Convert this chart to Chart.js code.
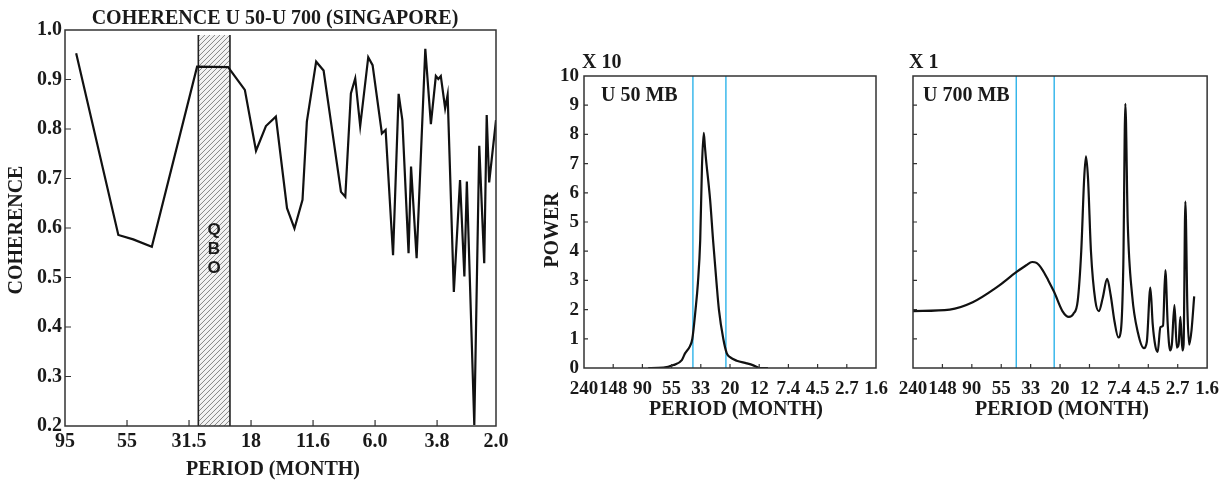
<!DOCTYPE html>
<html>
<head>
<meta charset="utf-8">
<script src="https://cdn.jsdelivr.net/npm/chart.js@4.4.1/dist/chart.umd.min.js"></script>
<style>
  html, body { margin: 0; padding: 0; background: #fff; }
  #wrap { position: relative; width: 1229px; height: 481px; overflow: hidden; }
  canvas { position: absolute; top: 0; }
</style>
</head>
<body>
<div id="wrap">
  <canvas id="coh" width="520" height="481" style="left:0px"></canvas>
  <canvas id="u50" width="380" height="481" style="left:520px"></canvas>
  <canvas id="u700" width="349" height="481" style="left:880px"></canvas>
</div>
<script>
// coherence panel (x = position along the period axis, one unit per labelled tick)
const cohTickLabels = ["95", "55", "31.5", "18", "11.6", "6.0", "3.8", "2.0"];
const cohTickPos = [0, 1, 2, 3, 4, 5, 6, 6.95];
const cohYTicks = [0.2, 0.3, 0.4, 0.5, 0.6, 0.7, 0.8, 0.9, 1.0];
const qboBand = [2.15, 2.66];

const cohPos = [
  0.18, 0.86, 1.1, 1.4, 2.13, 2.63, 2.9, 3.08, 3.24, 3.4, 3.58, 3.7, 3.83, 3.9,
  4.05, 4.17, 4.45, 4.52, 4.61, 4.68, 4.76, 4.89, 4.96, 5.11, 5.17, 5.29, 5.38,
  5.44, 5.54, 5.58, 5.67, 5.81, 5.9, 5.98, 6.02, 6.06, 6.13, 6.17, 6.27, 6.37,
  6.44, 6.48, 6.6, 6.68, 6.76, 6.8, 6.84, 6.95,
];
const cohValues = [
  0.953, 0.586, 0.577, 0.562, 0.926, 0.925, 0.879, 0.756, 0.806, 0.825, 0.64,
  0.599, 0.657, 0.815, 0.936, 0.918, 0.673, 0.663, 0.872, 0.902, 0.806, 0.945,
  0.929, 0.791, 0.798, 0.545, 0.871, 0.818, 0.549, 0.724, 0.539, 0.962, 0.81,
  0.907, 0.901, 0.907, 0.842, 0.869, 0.471, 0.697, 0.502, 0.694, 0.202, 0.766,
  0.529, 0.828, 0.692, 0.818,
];

// power spectra (x = position along the period axis)
const periodLabels = ["240", "148", "90", "55", "33", "20", "12", "7.4", "4.5", "2.7", "1.6"];
const periodTickPos = [0, 1, 2, 3, 4, 5, 6, 7, 8, 9, 10];
const powerTicks = [0, 1, 2, 3, 4, 5, 6, 7, 8, 9, 10];

const u50Marks = [3.73, 4.86];
const u50Pos = [
  2.2, 2.72, 3.06, 3.35, 3.46, 3.63, 3.71, 3.82, 3.9, 3.98, 4.04, 4.1, 4.14,
  4.17, 4.32, 4.42, 4.54, 4.62, 4.77, 4.89, 5.0, 5.23, 5.57, 5.8, 6.03, 6.3,
];
const u50Power = [
  0, 0.01, 0.1, 0.27, 0.5, 0.75, 1.0, 2.0, 2.9, 4.38, 6.9, 8.05, 7.6, 7.24,
  5.75, 4.38, 2.9, 2.0, 1.0, 0.5, 0.37, 0.25, 0.16, 0.09, 0, 0,
];

const u700Marks = [3.51, 4.8];
const u700Pos = [
  0, 1.25, 2.03, 2.83, 3.51, 3.85, 4.05, 4.2, 4.39, 4.6, 4.8, 5.08, 5.3, 5.45,
  5.6, 5.72, 5.82, 5.88, 5.95, 6.05, 6.2, 6.32, 6.45, 6.6, 6.72, 6.85, 6.98,
  7.07, 7.15, 7.22, 7.3, 7.45, 7.65, 7.85, 7.95, 8.07, 8.15, 8.24, 8.32, 8.41,
  8.5, 8.58, 8.66, 8.74, 8.8, 8.89, 8.97, 9.03, 9.09, 9.16, 9.2, 9.26, 9.33,
  9.39, 9.47, 9.56,
];
const u700Power = [
  1.95, 2.0, 2.25, 2.75, 3.28, 3.52, 3.63, 3.6, 3.38, 3.0, 2.6, 1.95, 1.75,
  1.85, 2.3, 4.0, 6.5, 7.25, 6.5, 4.0, 2.3, 1.95, 2.4, 3.05, 2.5, 1.6, 1.05,
  1.3, 3.5, 9.05, 5.0, 2.5, 1.2, 0.68, 0.9, 2.75, 1.5, 0.75, 0.55, 1.4, 1.45,
  3.35, 1.5, 0.6, 0.8, 2.15, 0.7, 0.8, 1.75, 0.6, 0.8, 5.7, 2.0, 0.8, 1.3, 2.45,
];

const SERIF = '"Liberation Serif", "Times New Roman", serif';
const INK = "#1a1a1a";

function pts(xs, ys) {
  return xs.map((x, i) => ({ x: x, y: ys[i] }));
}

// frame + short inward tick marks
const innerTicks = {
  id: "innerTicks",
  afterDraw(chart, args, opts) {
    const { ctx, chartArea: a, scales } = chart;
    ctx.save();
    ctx.strokeStyle = "#333";
    ctx.lineWidth = 1.2;
    ctx.beginPath();
    scales.x.ticks.forEach((t) => {
      const px = scales.x.getPixelForValue(t.value);
      if (px > a.left + 2 && px < a.right - 2) {
        ctx.moveTo(px, a.bottom);
        ctx.lineTo(px, a.bottom - opts.len);
      }
    });
    scales.y.ticks.forEach((t) => {
      const py = scales.y.getPixelForValue(t.value);
      if (py > a.top + 2 && py < a.bottom - 2) {
        ctx.moveTo(a.left, py);
        ctx.lineTo(a.left + opts.len, py);
      }
    });
    ctx.stroke();
    ctx.lineWidth = 1.5;
    ctx.strokeRect(a.left, a.top, a.right - a.left, a.bottom - a.top);
    ctx.restore();
  },
};

// free text placed in page coordinates
const textLabels = {
  id: "textLabels",
  afterDraw(chart, args, opts) {
    const ctx = chart.ctx;
    ctx.save();
    ctx.fillStyle = INK;
    (opts.items || []).forEach((it) => {
      ctx.save();
      ctx.font = it.font || "bold 20px " + SERIF;
      ctx.textAlign = it.align || "center";
      ctx.textBaseline = "middle";
      ctx.translate(it.x - opts.offset, it.y);
      if (it.rotate) ctx.rotate(it.rotate);
      ctx.fillText(it.text, 0, 0);
      ctx.restore();
    });
    ctx.restore();
  },
};

// hatched QBO band
const hatchBand = {
  id: "hatchBand",
  beforeDatasetsDraw(chart, args, opts) {
    if (!opts.from && opts.from !== 0) return;
    const { ctx, chartArea: a, scales } = chart;
    const x0 = scales.x.getPixelForValue(opts.from);
    const x1 = scales.x.getPixelForValue(opts.to);
    const top = a.top + 5;
    ctx.save();
    ctx.fillStyle = "#f2f2f2";
    ctx.fillRect(x0, top, x1 - x0, a.bottom - top);
    ctx.beginPath();
    ctx.rect(x0, top, x1 - x0, a.bottom - top);
    ctx.clip();
    ctx.strokeStyle = "#6a6a6a";
    ctx.lineWidth = 0.8;
    ctx.beginPath();
    for (let k = top - 60; k < a.bottom + 60; k += 5) {
      ctx.moveTo(x0, k + (x1 - x0));
      ctx.lineTo(x1, k);
    }
    ctx.stroke();
    ctx.restore();
    ctx.save();
    ctx.strokeStyle = "#222";
    ctx.lineWidth = 1.6;
    ctx.beginPath();
    ctx.moveTo(x0, top);
    ctx.lineTo(x0, a.bottom);
    ctx.moveTo(x1, top);
    ctx.lineTo(x1, a.bottom);
    ctx.stroke();
    ctx.restore();
  },
};

// thin blue reference lines
const markLines = {
  id: "markLines",
  beforeDatasetsDraw(chart, args, opts) {
    if (!opts.at) return;
    const { ctx, chartArea: a, scales } = chart;
    ctx.save();
    ctx.strokeStyle = "#1eaee8";
    ctx.lineWidth = 1.3;
    ctx.beginPath();
    opts.at.forEach((v) => {
      const px = scales.x.getPixelForValue(v);
      ctx.moveTo(px, a.top);
      ctx.lineTo(px, a.bottom);
    });
    ctx.stroke();
    ctx.restore();
  },
};

function makeChart(id, cfg) {
  return new Chart(document.getElementById(id), {
    type: "line",
    data: {
      datasets: [
        {
          data: cfg.data,
          borderColor: "#111",
          borderWidth: 2.2,
          pointRadius: 0,
          tension: cfg.tension || 0,
          cubicInterpolationMode: cfg.tension ? "monotone" : "default",
        },
      ],
    },
    options: {
      responsive: false,
      animation: false,
      devicePixelRatio: 1,
      layout: { padding: cfg.padding },
      plugins: {
        legend: { display: false },
        tooltip: { enabled: false },
        innerTicks: { len: cfg.tickLen },
        textLabels: { offset: cfg.offset, items: cfg.texts },
        hatchBand: cfg.band || {},
        markLines: cfg.marks || {},
      },
      scales: {
        x: {
          type: "linear",
          min: cfg.xMin,
          max: cfg.xMax,
          grid: { display: false, drawTicks: false },
          border: { display: false },
          afterBuildTicks: (s) => {
            s.ticks = cfg.xTicks.map((v) => ({ value: v }));
          },
          afterFit: (s) => {
            s.height = cfg.xHeight;
          },
          ticks: {
            autoSkip: false,
            maxRotation: 0,
            minRotation: 0,
            padding: cfg.xPad,
            color: INK,
            font: { family: SERIF, size: cfg.xFont, weight: "bold" },
            callback: (v, i) => cfg.xLabels[i],
          },
        },
        y: {
          type: "linear",
          min: cfg.yMin,
          max: cfg.yMax,
          grid: { display: false, drawTicks: false },
          border: { display: false },
          afterBuildTicks: (s) => {
            s.ticks = cfg.yTicks.map((v) => ({ value: v }));
          },
          afterFit: (s) => {
            s.width = cfg.yWidth;
          },
          ticks: {
            display: cfg.yLabels,
            padding: cfg.yPad,
            color: INK,
            font: { family: SERIF, size: cfg.yFont, weight: "bold" },
            callback: cfg.yFormat,
          },
        },
      },
    },
    plugins: [hatchBand, markLines, innerTicks, textLabels],
  });
}

makeChart("coh", {
  data: pts(cohPos, cohValues),
  padding: { top: 30, right: 24, left: 0, bottom: 0 },
  offset: 0,
  xMin: 0,
  xMax: 6.95,
  xTicks: cohTickPos,
  xLabels: cohTickLabels,
  xHeight: 55,
  xPad: 4,
  xFont: 20,
  yMin: 0.2,
  yMax: 1.0,
  yTicks: cohYTicks,
  yWidth: 65,
  yPad: 3,
  yFont: 20,
  yLabels: true,
  yFormat: (v) => v.toFixed(1),
  tickLen: 6,
  band: { from: qboBand[0], to: qboBand[1] },
  texts: [
    { text: "COHERENCE U 50-U 700 (SINGAPORE)", x: 275, y: 19 },
    { text: "COHERENCE", x: 17, y: 230, rotate: -Math.PI / 2 },
    { text: "PERIOD (MONTH)", x: 273, y: 470 },
    { text: "Q", x: 214, y: 230, font: 'bold 17px "Liberation Sans", Arial, sans-serif' },
    { text: "B", x: 214, y: 249, font: 'bold 17px "Liberation Sans", Arial, sans-serif' },
    { text: "O", x: 214, y: 268, font: 'bold 17px "Liberation Sans", Arial, sans-serif' },
  ],
});

makeChart("u50", {
  data: pts(u50Pos, u50Power),
  tension: 0.4,
  padding: { top: 76, right: 24, left: 0, bottom: 0 },
  offset: 520,
  xMin: 0,
  xMax: 10,
  xTicks: periodTickPos,
  xLabels: periodLabels,
  xHeight: 113,
  xPad: 10,
  xFont: 19,
  yMin: 0,
  yMax: 10,
  yTicks: powerTicks,
  yWidth: 64,
  yPad: 5,
  yFont: 19,
  yLabels: true,
  yFormat: (v) => String(v),
  tickLen: 4,
  marks: { at: u50Marks },
  texts: [
    { text: "X 10", x: 582, y: 63, align: "left" },
    { text: "U 50 MB", x: 601, y: 96, align: "left" },
    { text: "POWER", x: 553, y: 230, rotate: -Math.PI / 2 },
    { text: "PERIOD (MONTH)", x: 736, y: 410 },
  ],
});

makeChart("u700", {
  data: pts(u700Pos, u700Power),
  tension: 0.4,
  padding: { top: 76, right: 20, left: 0, bottom: 0 },
  offset: 880,
  xMin: 0,
  xMax: 10,
  xTicks: periodTickPos,
  xLabels: periodLabels,
  xHeight: 113,
  xPad: 10,
  xFont: 19,
  yMin: 0,
  yMax: 10,
  yTicks: powerTicks,
  yWidth: 33,
  yPad: 5,
  yFont: 19,
  yLabels: false,
  yFormat: (v) => String(v),
  tickLen: 4,
  marks: { at: u700Marks },
  texts: [
    { text: "X 1", x: 909, y: 63, align: "left" },
    { text: "U 700 MB", x: 923, y: 96, align: "left" },
    { text: "PERIOD (MONTH)", x: 1062, y: 410 },
  ],
});
</script>
</body>
</html>
